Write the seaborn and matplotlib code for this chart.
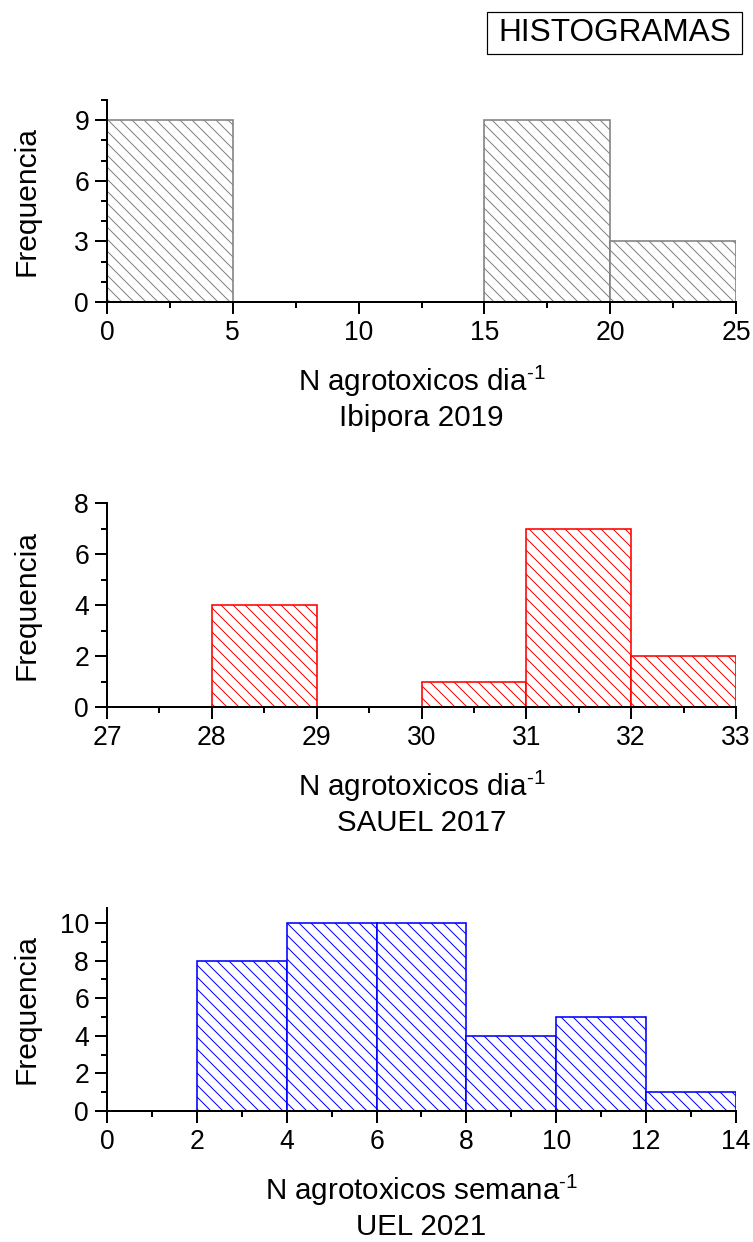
import numpy as np
import pandas as pd
import matplotlib
matplotlib.use("Agg")
import matplotlib.pyplot as plt
from matplotlib.ticker import MultipleLocator
from matplotlib.patches import Rectangle
import seaborn as sns

# Frequency tables (bin edges and counts per bin)
ibipora_bins = [0, 5, 10, 15, 20, 25]
ibipora_freq = [9, 0, 0, 9, 3]

sauel_bins = [27, 28, 29, 30, 31, 32, 33]
sauel_freq = [0, 4, 0, 1, 7, 2]

uel_bins = [0, 2, 4, 6, 8, 10, 12, 14]
uel_freq = [0, 8, 10, 10, 4, 5, 1]

panel_titles = ["Ibipora 2019", "SAUEL 2017", "UEL 2021"]
x_units = ["dia", "dia", "semana"]
panel_colors = ["#808080", "#FF0000", "#0000FF"]

sns.set_style("ticks")
plt.rcParams["font.family"] = ["Liberation Sans", "DejaVu Sans"]
plt.rcParams["mathtext.fontset"] = "custom"
plt.rcParams["mathtext.rm"] = "Liberation Sans"
plt.rcParams["hatch.linewidth"] = 1.0
plt.rcParams["text.color"] = "black"
plt.rcParams["axes.labelcolor"] = "black"

DPI = 72
fig = plt.figure(figsize=(753 / DPI, 1242 / DPI), dpi=DPI)

W, H = 753.0, 1242.0
left_px, right_px = 107, 736
panel_px = [(100, 302), (503, 707), (908, 1111)]  # (top, bottom) in pixels

panels = [
    (ibipora_bins, ibipora_freq, (0, 25), (0, 10), 5, 2.5, 3, 1),
    (sauel_bins, sauel_freq, (27, 33), (0, 8), 1, 0.5, 2, 1),
    (uel_bins, uel_freq, (0, 14), (0, 10.8), 2, 1, 2, 1),
]

for i, (edges, freq, xlim, ylim, xmaj, xmin, ymaj, ymin) in enumerate(panels):
    top, bottom = panel_px[i]
    ax = fig.add_axes([left_px / W, 1 - bottom / H,
                       (right_px - left_px) / W, (bottom - top) / H])
    centers = [(a + b) / 2 for a, b in zip(edges[:-1], edges[1:])]
    df = pd.DataFrame({"x": centers, "w": freq})
    sns.histplot(data=df, x="x", weights="w", bins=list(edges), ax=ax,
                 stat="count", fill=True, facecolor="white",
                 edgecolor=panel_colors[i], linewidth=1.6,
                 hatch="\\\\")
    ax.set_xlim(*xlim)
    ax.set_ylim(*ylim)

    ax.xaxis.set_major_locator(MultipleLocator(xmaj))
    ax.xaxis.set_minor_locator(MultipleLocator(xmin))
    ax.yaxis.set_major_locator(MultipleLocator(ymaj))
    ax.yaxis.set_minor_locator(MultipleLocator(ymin))

    for side in ["top", "right"]:
        ax.spines[side].set_visible(False)
    for side in ["left", "bottom"]:
        ax.spines[side].set_linewidth(2)
        ax.spines[side].set_color("black")
        ax.spines[side].set_zorder(5)

    ax.tick_params(axis="both", which="major", direction="out", length=12,
                   width=2, color="black", labelcolor="black",
                   labelsize=26.5, pad=6)
    ax.tick_params(axis="both", which="minor", direction="out", length=6,
                   width=2, color="black")

    ax.set_xlabel(f"N agrotoxicos {x_units[i]}$^{{\\text{{-1}}}}$\n{panel_titles[i]}",
                  fontsize=29.5, labelpad=17, linespacing=1.24)
    ax.set_ylabel("Frequencia", fontsize=30, va="center")
    ax.yaxis.set_label_coords(-0.128, 0.5)
    ax.set_facecolor("white")

# Header box
fig.patches.append(Rectangle((487 / W, 1 - 54 / H), (742 - 487) / W, 42 / H,
                             transform=fig.transFigure, fill=False,
                             edgecolor="black", linewidth=1.2))
fig.text(614.5 / W, 1 - 33 / H, "HISTOGRAMAS", fontsize=31.5,
         ha="center", va="center")

fig.savefig("out.png", dpi=DPI, facecolor="white")
